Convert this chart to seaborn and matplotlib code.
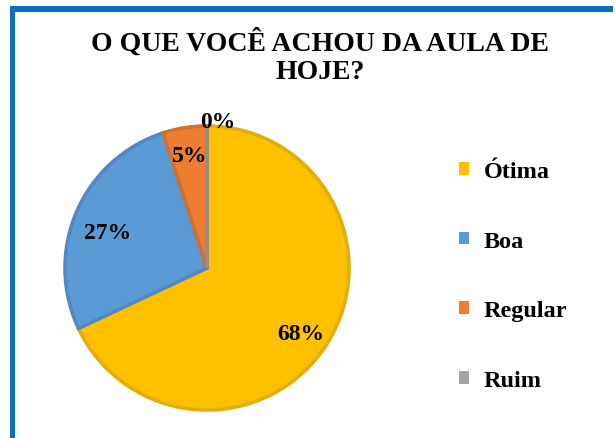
import matplotlib
matplotlib.use("Agg")
import matplotlib.pyplot as plt
from matplotlib.patches import Patch, Rectangle
import numpy as np
import seaborn as sns

categories = ["Ótima", "Boa", "Regular", "Ruim"]
values = [68, 27, 5, 0]
pct_labels = ["68%", "27%", "5%", "0%"]
title = "O QUE VOCÊ ACHOU DA AULA DE\nHOJE?"

colors = ["#FFC000", "#5B9BD5", "#ED7D31", "#A5A5A5"]
edge_colors = ["#E3AE0A", "#5289C2", "#D2702E", "#909090"]
label_dist = [0.78, 0.75, 0.82, 1.06]
label_offset_px = [(0, -6), (-2, -7), (1, -3), (11, -4)]

sns.set_theme(style="white")
plt.rcParams["font.family"] = ["Liberation Serif", "DejaVu Serif"]
plt.rcParams["text.color"] = "black"

W, H = 615, 439
fig = plt.figure(figsize=(W / 100, H / 100), dpi=100)
fig.patch.set_facecolor("white")

# frame border (blue, left and top)
border = "#0A6FC2"
fig.add_artist(Rectangle((10 / W, 0), 5 / W, (H - 7) / H, transform=fig.transFigure,
                         facecolor=border, edgecolor="none"))
fig.add_artist(Rectangle((10 / W, (H - 13) / H), (613 - 10) / W, 6 / H, transform=fig.transFigure,
                         facecolor=border, edgecolor="none"))

cx, cy, r = 207, 269, 142
ax = fig.add_axes([(cx - r) / W, (H - cy - r) / H, 2 * r / W, 2 * r / H])
wedges, _ = ax.pie(values, colors=colors, startangle=90, counterclock=False,
                   radius=1.0, wedgeprops=dict(linewidth=2.6))
for w, ec in zip(wedges, edge_colors):
    w.set_edgecolor(ec)
    w.set_joinstyle("miter")

for w, lab, d, off in zip(wedges, pct_labels, label_dist, label_offset_px):
    ang = np.deg2rad((w.theta1 + w.theta2) / 2)
    ax.annotate(lab, (d * np.cos(ang), d * np.sin(ang)),
                xytext=(off[0] * 0.72, off[1] * 0.72), textcoords="offset points",
                ha="center", va="center", fontsize=17, fontweight="bold",
                color="black", annotation_clip=False)
ax.set_xlim(-1, 1)
ax.set_ylim(-1, 1)
ax.set_aspect("equal")
ax.axis("off")

fig.text(320 / W, 1 - 57 / H, title, ha="center", va="center", fontsize=20,
         fontweight="bold", linespacing=1.15, color="black")

handles = [Patch(facecolor=c, edgecolor="none") for c in colors]
leg = fig.legend(handles, categories, loc="center left",
                 bbox_to_anchor=(459 / W, 1 - 277 / H), frameon=False,
                 prop=dict(family=["Liberation Serif"], weight="bold", size=17.5),
                 handlelength=0.42, handleheight=0.42, handletextpad=0.6,
                 labelspacing=2.0, borderpad=0, borderaxespad=0)
for t in leg.get_texts():
    t.set_color("black")

fig.savefig("out.png", dpi=100, facecolor="white")
